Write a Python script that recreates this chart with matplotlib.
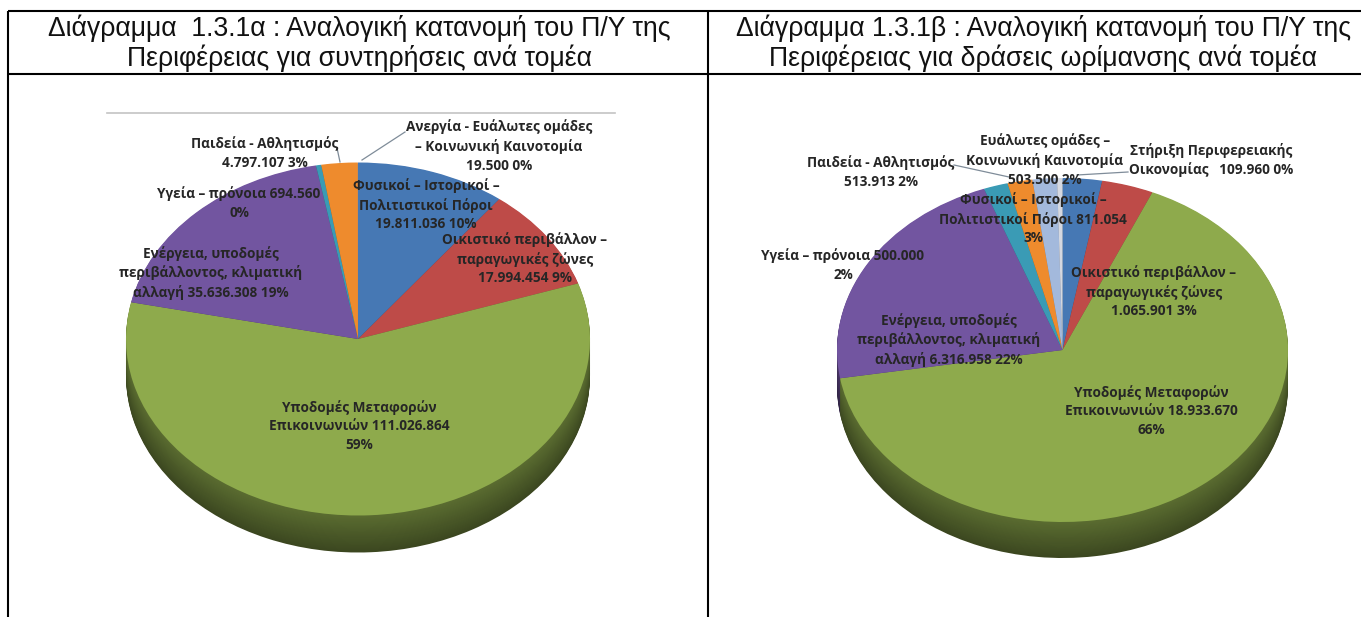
import numpy as np
import matplotlib
matplotlib.use("Agg")
import matplotlib.pyplot as plt

W, H = 1361, 617

title_a = "Διάγραμμα  1.3.1α : Αναλογική κατανομή του Π/Υ της\nΠεριφέρειας για συντηρήσεις ανά τομέα"
title_b = "Διάγραμμα 1.3.1β : Αναλογική κατανομή του Π/Υ της\nΠεριφέρειας για δράσεις ωρίμανσης ανά τομέα"

values_a = [19811036, 17994454, 111026864, 35636308, 694560, 4797107, 19500]
colors_a = ["#4678B4", "#BE4B48", "#8EAA4C", "#7255A0", "#3A9BB5", "#EE8B2D", "#A3B9DC"]
labels_a = [
    "Φυσικοί – Ιστορικοί –\nΠολιτιστικοί Πόροι\n19.811.036 10%",
    "Οικιστικό περιβάλλον –\nπαραγωγικές ζώνες\n17.994.454 9%",
    "Υποδομές Μεταφορών\nΕπικοινωνιών 111.026.864\n59%",
    "Ενέργεια, υποδομές\nπεριβάλλοντος, κλιματική\nαλλαγή 35.636.308 19%",
    "Υγεία – πρόνοια 694.560\n0%",
    "Παιδεία - Αθλητισμός\n4.797.107 3%",
    "Ανεργία - Ευάλωτες ομάδες\n– Κοινωνική Καινοτομία\n19.500 0%",
]

values_b = [811054, 1065901, 18933670, 6316958, 500000, 513913, 503500, 109960]
colors_b = ["#4678B4", "#BE4B48", "#8EAA4C", "#7255A0", "#3A9BB5", "#EE8B2D", "#A3B9DC", "#D5D8E0"]
labels_b = [
    "Φυσικοί – Ιστορικοί –\nΠολιτιστικοί Πόροι 811.054\n3%",
    "Οικιστικό περιβάλλον –\nπαραγωγικές ζώνες\n1.065.901 3%",
    "Υποδομές Μεταφορών\nΕπικοινωνιών 18.933.670\n66%",
    "Ενέργεια, υποδομές\nπεριβάλλοντος, κλιματική\nαλλαγή 6.316.958 22%",
    "Υγεία – πρόνοια 500.000\n2%",
    "Παιδεία - Αθλητισμός\n513.913 2%",
    "Ευάλωτες ομάδες –\nΚοινωνική Καινοτομία\n503.500 2%",
    "Στήριξη Περιφερειακής\nΟικονομίας   109.960 0%",
]

# layout (pixel space)
label_pos_a = [(426, 205), (525, 259), (359, 426), (211, 273), (239, 203), (265, 153), (499, 146)]
label_pos_b = [(1033, 219), (1154, 292), (1151, 411), (949, 340), (843, 265), (881, 172), (1045, 160), (1211, 160)]
leaders_a = [((337, 148), (340, 162)), ((405, 132), (362, 160))]
leaders_b = [((954, 165), (1009, 177)), ((1128, 172), (1077, 175))]
pie_a = dict(cx=358, cy=339, rx=232, ry=176.5, depth=37)
pie_b = dict(cx=1062.5, cy=350, rx=225.5, ry=172, depth=36)

TEXT = "#262626"
LABEL_FONT = ["Open Sans", "DejaVu Sans"]


def darken(col, f):
    return tuple(c * f for c in matplotlib.colors.to_rgb(col))


fig = plt.figure(figsize=(W / 100, H / 100), dpi=100, facecolor="white")


def draw_pie(spec, values, colors):
    cx, cy, rx, ry, depth = (spec[k] for k in ("cx", "cy", "rx", "ry", "depth"))
    margin = depth + 4
    left, right = cx - rx - 4, cx + rx + 4
    top, bottom = cy - ry - 4, cy + ry + margin
    ax = fig.add_axes([left / W, 1 - bottom / H, (right - left) / W, (bottom - top) / H])
    # side wall: stack of darker copies, deepest and darkest first
    for t in np.linspace(1, 0.02, 40):
        shade = 0.42 + 0.22 * (1 - t)
        ax.pie(values, startangle=90, counterclock=False, radius=rx,
               center=(0, -t * depth * rx / ry),
               colors=[darken(c, shade) for c in colors],
               wedgeprops=dict(linewidth=0))
    ax.pie(values, startangle=90, counterclock=False, radius=rx, center=(0, 0),
           colors=colors, wedgeprops=dict(linewidth=0))
    ax.set_aspect("auto")
    ax.set_xlim((left - cx), (right - cx))
    ax.set_ylim(-(bottom - cy) * rx / ry, (cy - top) * rx / ry)
    ax.axis("off")


draw_pie(pie_a, values_a, colors_a)
draw_pie(pie_b, values_b, colors_b)

ov = fig.add_axes([0, 0, 1, 1], facecolor="none")
ov.set_xlim(0, W)
ov.set_ylim(H, 0)
ov.axis("off")

# table rules
lw = 1.5
for (x0, x1, y0, y1) in [(8, W, 11, 11), (8, W, 73.5, 73.5), (8, 8, 11, H), (708, 708, 11, H)]:
    ov.plot([x0, x1], [y0, y1], color="black", lw=lw, solid_capstyle="butt")
ov.plot([107, 615], [113, 113], color="#c4c4c4", lw=1.2)

ov.text(359.5, 43.5, title_a, ha="center", va="center", fontsize=19.2, family="Liberation Sans",
        color="#111111", linespacing=1.13)
ov.text(1043.5, 43.5, title_b, ha="center", va="center", fontsize=19.2, family="Liberation Sans",
        color="#111111", linespacing=1.13)

for (p, q) in leaders_a + leaders_b:
    ov.plot([p[0], q[0]], [p[1], q[1]], color="#7f8c99", lw=0.9)

for labels, pos in ((labels_a, label_pos_a), (labels_b, label_pos_b)):
    for s, (x, y) in zip(labels, pos):
        ov.text(x, y, s, ha="center", va="center", fontsize=9.8, family=LABEL_FONT,
                fontweight="bold", color=TEXT, linespacing=1.4)

fig.savefig("out.png", dpi=100)
